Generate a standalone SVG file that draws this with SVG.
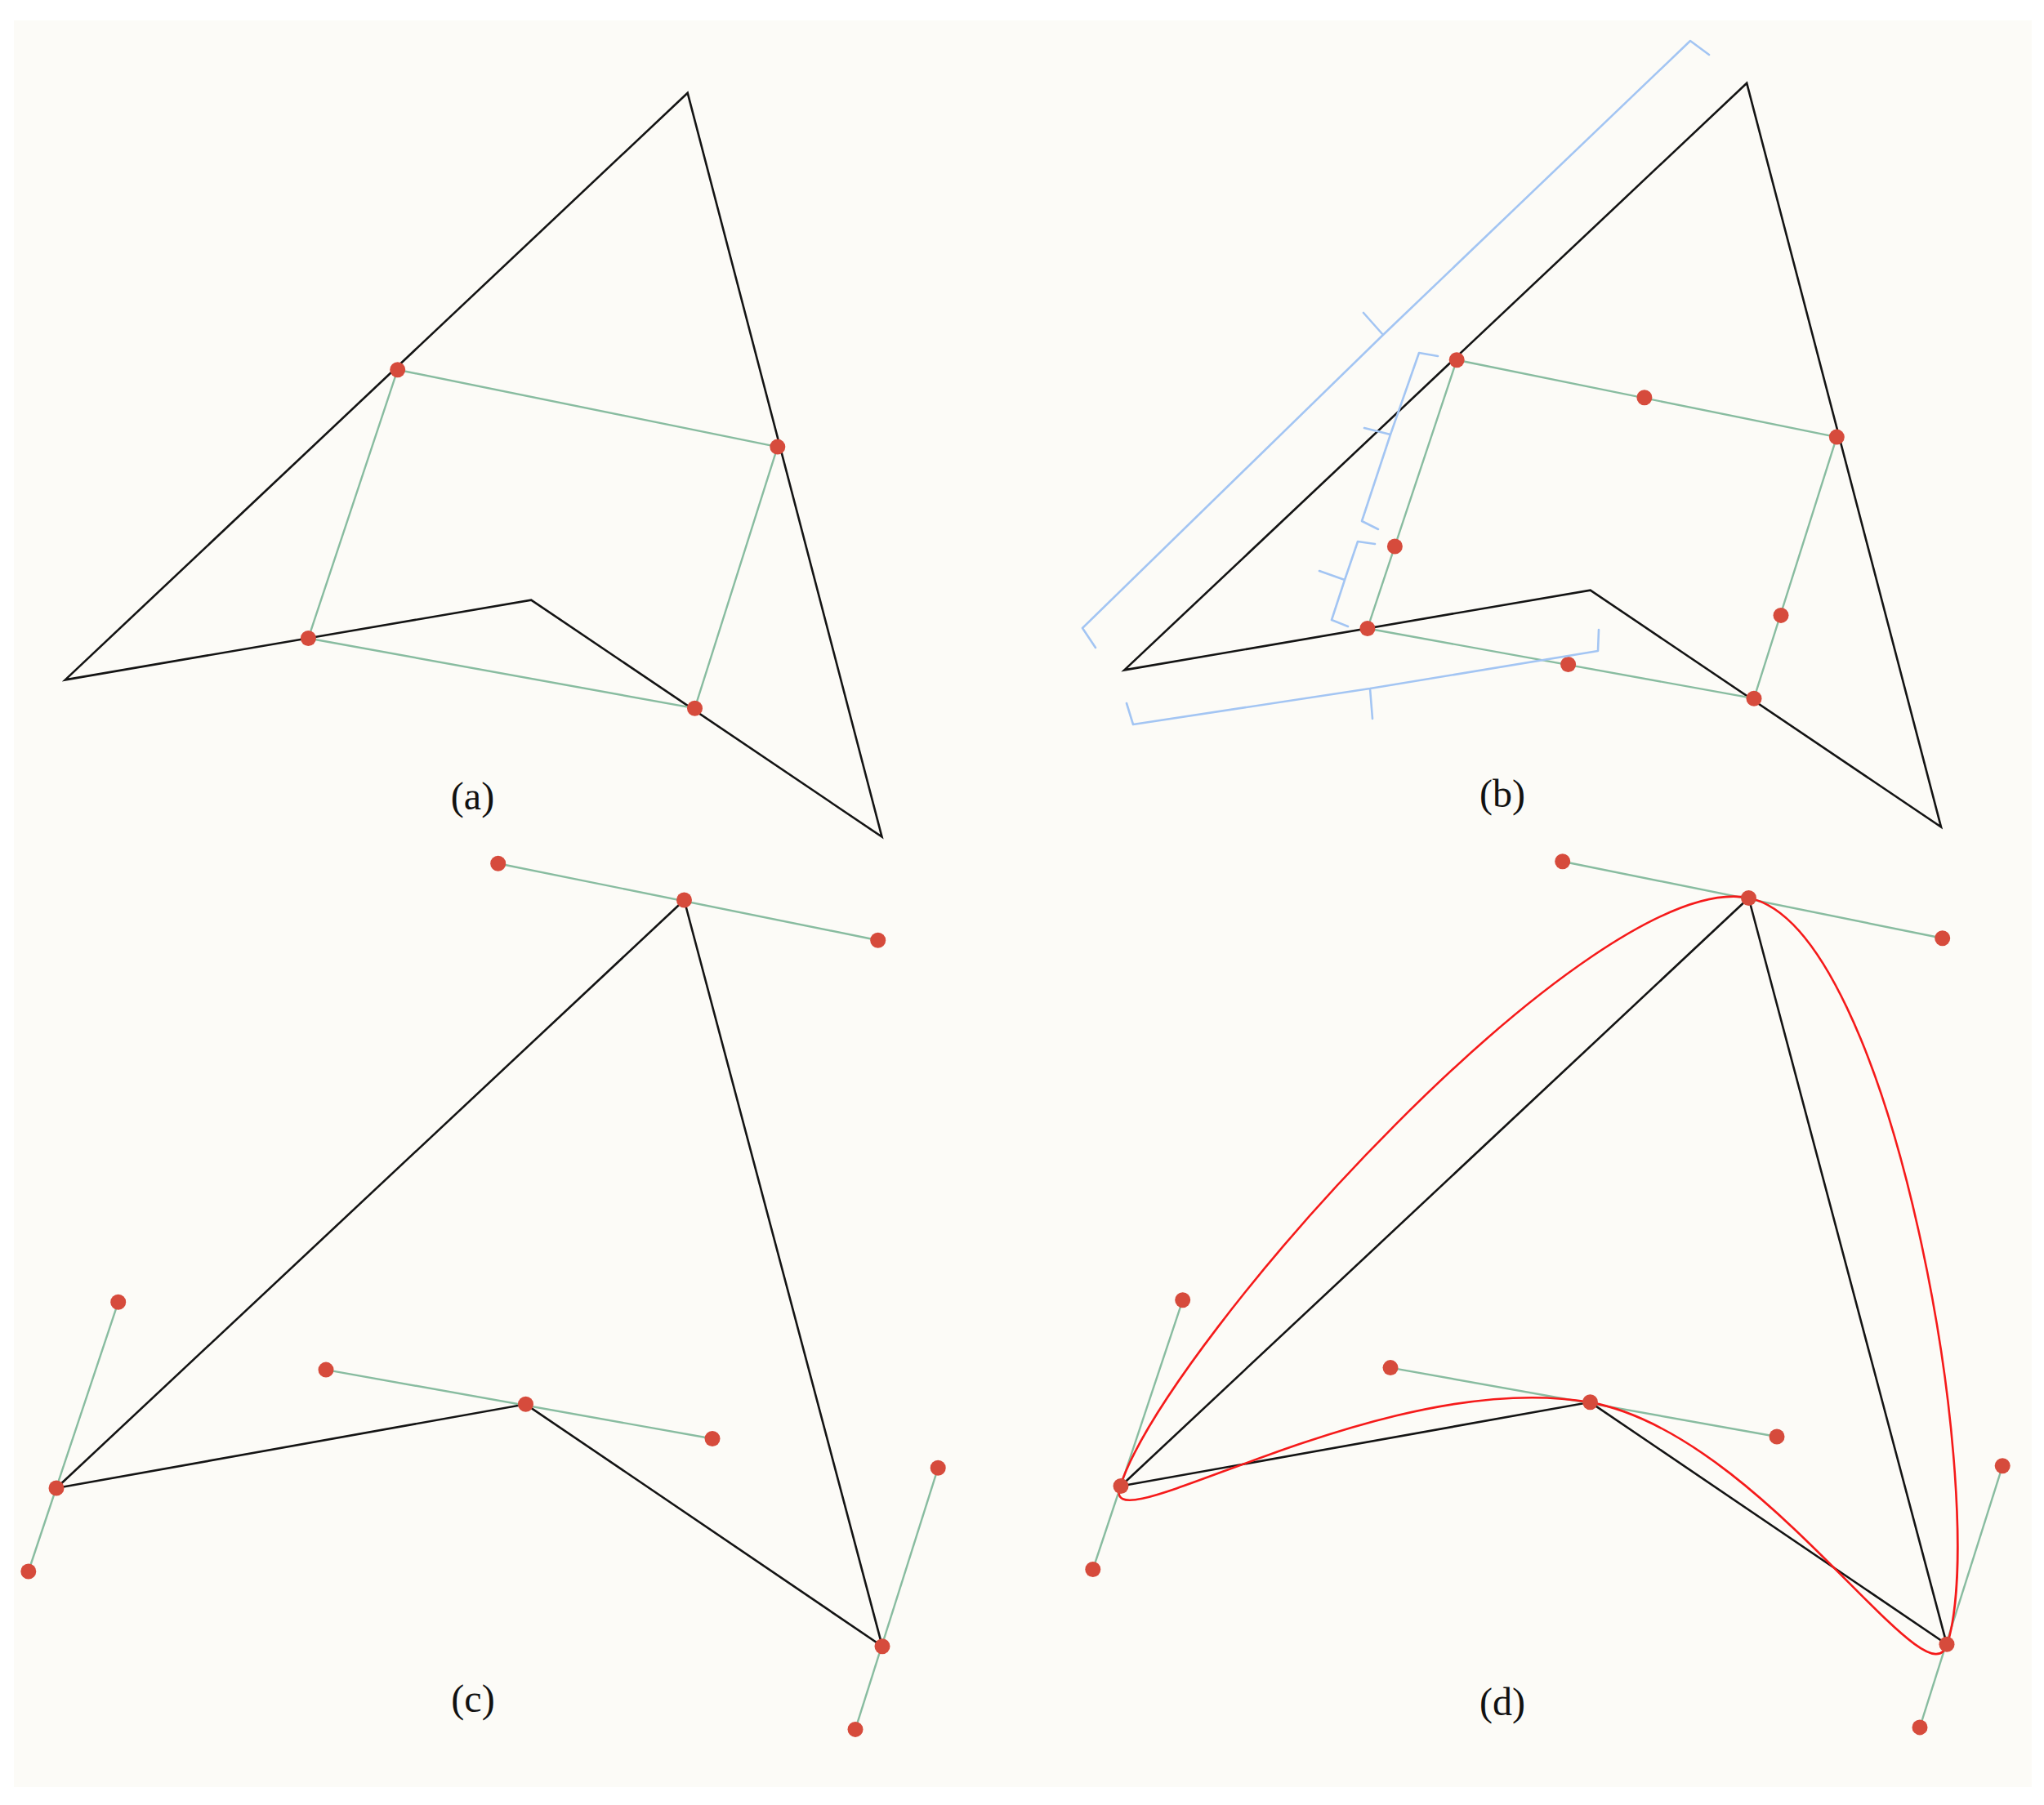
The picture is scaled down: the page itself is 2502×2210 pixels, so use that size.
<svg xmlns="http://www.w3.org/2000/svg" width="2502" height="2210" viewBox="0 0 2502 2210">
<style>
.shape{fill:none;stroke:#141414;stroke-width:2.6;stroke-linejoin:miter}
.green{fill:none;stroke:#88bca0;stroke-width:2.4}
.dot{fill:#d64b3c}
.brace{fill:none;stroke:#a3c5f3;stroke-width:2.6;stroke-linejoin:round;stroke-linecap:round}
.curve{fill:none;stroke:#f51a1a;stroke-width:2.6}
.lbl{font-family:"Liberation Serif","Times New Roman",serif;font-size:48px;fill:#111;text-anchor:middle}
</style>
<rect x="0" y="0" width="2502" height="2210" fill="#ffffff"/>
<rect x="17" y="25" width="2470" height="2163" fill="#fcfbf7"/>

<g id="panel-a">
  <polygon class="shape" points="841.7,113.8 1079.5,1024.6 650.2,734.6 79.8,832.4"/>
  <polygon class="green" points="486.7,452.7 951.8,547.1 850.5,867.2 377.4,781.5"/>
  <circle class="dot" cx="486.7" cy="452.7" r="9.5"/>
  <circle class="dot" cx="951.8" cy="547.1" r="9.5"/>
  <circle class="dot" cx="850.5" cy="867.2" r="9.5"/>
  <circle class="dot" cx="377.4" cy="781.5" r="9.5"/>
  <text class="lbl" x="578.5" y="991">(a)</text>
</g>

<g id="panel-b">
  <g transform="translate(1296.5,-12)">
    <polygon class="shape" points="841.7,113.8 1079.5,1024.6 650.2,734.6 79.8,832.4"/>
    <polygon class="green" points="486.7,452.7 951.8,547.1 850.5,867.2 377.4,781.5"/>
    <circle class="dot" cx="486.7" cy="452.7" r="9.5"/>
    <circle class="dot" cx="951.8" cy="547.1" r="9.5"/>
    <circle class="dot" cx="850.5" cy="867.2" r="9.5"/>
    <circle class="dot" cx="377.4" cy="781.5" r="9.5"/>
    <circle class="dot" cx="716.4" cy="498.8" r="9.5"/>
    <circle class="dot" cx="410.9" cy="681" r="9.5"/>
    <circle class="dot" cx="623.1" cy="825.5" r="9.5"/>
    <circle class="dot" cx="883.5" cy="765.4" r="9.5"/>
  </g>
  <g id="braces">
    <path class="brace" d="M1341,793 L1325,769 L1693,410 L1669,383 M1693,410 L2069,50 L2092,67"/>
    <path class="brace" d="M1760,436 L1737,432 L1702,532 L1670,524 M1702,532 L1667,638 L1687,648"/>
    <path class="brace" d="M1683,666 L1662,663 L1646,710 L1615,699 M1646,710 L1630,759 L1650,767"/>
    <path class="brace" d="M1379,861 L1387,887 L1677,843 L1680,880 M1677,843 L1956,797 L1957,771"/>
  </g>
  <text class="lbl" x="1839" y="988">(b)</text>
</g>

<g id="panel-c">
  <polygon class="shape" points="837.5,1102 1080,2015.8 643.5,1719.3 69,1822"/>
  <g class="handles">
    <line class="green" x1="609.7" y1="1057.2" x2="1074.7" y2="1151.2"/>
    <line class="green" x1="144.7" y1="1594.3" x2="34.8" y2="1924"/>
    <line class="green" x1="399" y1="1677.1" x2="872" y2="1761.5"/>
    <line class="green" x1="1148.2" y1="1797.3" x2="1047" y2="2117.4"/>
  </g>
  <circle class="dot" cx="837.5" cy="1102" r="9.5"/>
  <circle class="dot" cx="1080" cy="2015.8" r="9.5"/>
  <circle class="dot" cx="643.5" cy="1719.3" r="9.5"/>
  <circle class="dot" cx="69" cy="1822" r="9.5"/>
  <circle class="dot" cx="609.7" cy="1057.2" r="9.5"/>
  <circle class="dot" cx="1074.7" cy="1151.2" r="9.5"/>
  <circle class="dot" cx="144.7" cy="1594.3" r="9.5"/>
  <circle class="dot" cx="34.8" cy="1924" r="9.5"/>
  <circle class="dot" cx="399" cy="1677.1" r="9.5"/>
  <circle class="dot" cx="872" cy="1761.5" r="9.5"/>
  <circle class="dot" cx="1148.2" cy="1797.3" r="9.5"/>
  <circle class="dot" cx="1047" cy="2117.4" r="9.5"/>
  <text class="lbl" x="579" y="2096">(c)</text>
</g>

<g id="panel-d">
  <g transform="translate(1303,-2.5)">
    <polygon class="shape" points="837.5,1102 1080,2015.8 643.5,1719.3 69,1822"/>
    <line class="green" x1="609.7" y1="1057.2" x2="1074.7" y2="1151.2"/>
    <line class="green" x1="144.7" y1="1594.3" x2="34.8" y2="1924"/>
    <line class="green" x1="399" y1="1677.1" x2="872" y2="1761.5"/>
    <line class="green" x1="1148.2" y1="1797.3" x2="1047" y2="2117.4"/>
  </g>
  <path class="curve" d="M2141,1099.4 C2317.2,1136.3 2436.5,1841.3 2383.6,2013.4 C2357.7,2091.6 2157.7,1755.9 1946.2,1716.9 C1690,1672.9 1345.4,1898.1 1370.9,1820.2 C1432.3,1637.2 1951.7,1062 2141,1099.4 Z"/>
  <g transform="translate(1303,-2.5)">
    <circle class="dot" cx="837.5" cy="1102" r="9.5"/>
    <circle class="dot" cx="1080" cy="2015.8" r="9.5"/>
    <circle class="dot" cx="643.5" cy="1719.3" r="9.5"/>
    <circle class="dot" cx="69" cy="1822" r="9.5"/>
    <circle class="dot" cx="609.7" cy="1057.2" r="9.5"/>
    <circle class="dot" cx="1074.7" cy="1151.2" r="9.5"/>
    <circle class="dot" cx="144.7" cy="1594.3" r="9.5"/>
    <circle class="dot" cx="34.8" cy="1924" r="9.5"/>
    <circle class="dot" cx="399" cy="1677.1" r="9.5"/>
    <circle class="dot" cx="872" cy="1761.5" r="9.5"/>
    <circle class="dot" cx="1148.2" cy="1797.3" r="9.5"/>
    <circle class="dot" cx="1047" cy="2117.4" r="9.5"/>
  </g>
  <text class="lbl" x="1839" y="2100">(d)</text>
</g>
</svg>
